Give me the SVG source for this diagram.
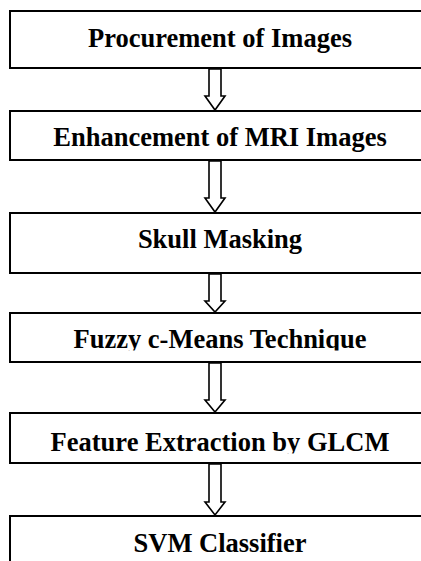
<svg xmlns="http://www.w3.org/2000/svg" width="421" height="561" viewBox="0 0 421 561">
<style>
.box{fill:#fff;stroke:#000;stroke-width:2}
.lbl{font-family:"Liberation Serif","Times New Roman",serif;font-weight:bold;font-size:26.5px;fill:#000;text-anchor:middle}
.arr{fill:#fff;stroke:#000;stroke-width:1.6;stroke-linejoin:miter}
</style>
<defs>
<clipPath id="c4"><rect x="0" y="300" width="421" height="50.5"/></clipPath>
<clipPath id="c5"><rect x="0" y="400" width="421" height="53.5"/></clipPath>
</defs>
<rect width="421" height="561" fill="#fff"/>
<g id="n1"><rect class="box" x="10" y="11" width="430" height="57"/><text class="lbl" x="220" y="47">Procurement of Images</text></g>
<g id="n2"><rect class="box" x="10" y="111" width="430" height="49"/><text class="lbl" x="220" y="146">Enhancement of MRI Images</text></g>
<g id="n3"><rect class="box" x="10" y="213" width="430" height="60"/><text class="lbl" x="220" y="248">Skull Masking</text></g>
<g id="n4"><rect class="box" x="10" y="313" width="430" height="49"/><text class="lbl" x="220" y="348" clip-path="url(#c4)">Fuzzy c-Means Technique</text></g>
<g id="n5"><rect class="box" x="10" y="413" width="430" height="50"/><text class="lbl" x="220" y="451" clip-path="url(#c5)">Feature Extraction by GLCM</text></g>
<g id="n6"><rect class="box" x="10" y="516" width="430" height="60"/><text class="lbl" x="220" y="552">SVM Classifier</text></g>
<g id="connectors">
<polygon class="arr" points="209,69 221,69 221,96 225,96 215,110 205,96 209,96"/>
<polygon class="arr" points="209,161 221,161 221,198 225,198 215,212 205,198 209,198"/>
<polygon class="arr" points="209,274 221,274 221,301 225,301 215,312 205,301 209,301"/>
<polygon class="arr" points="209,363 221,363 221,400 225,400 215,412 205,400 209,400"/>
<polygon class="arr" points="209,464 221,464 221,502 225,502 215,515 205,502 209,502"/>
</g>
</svg>
